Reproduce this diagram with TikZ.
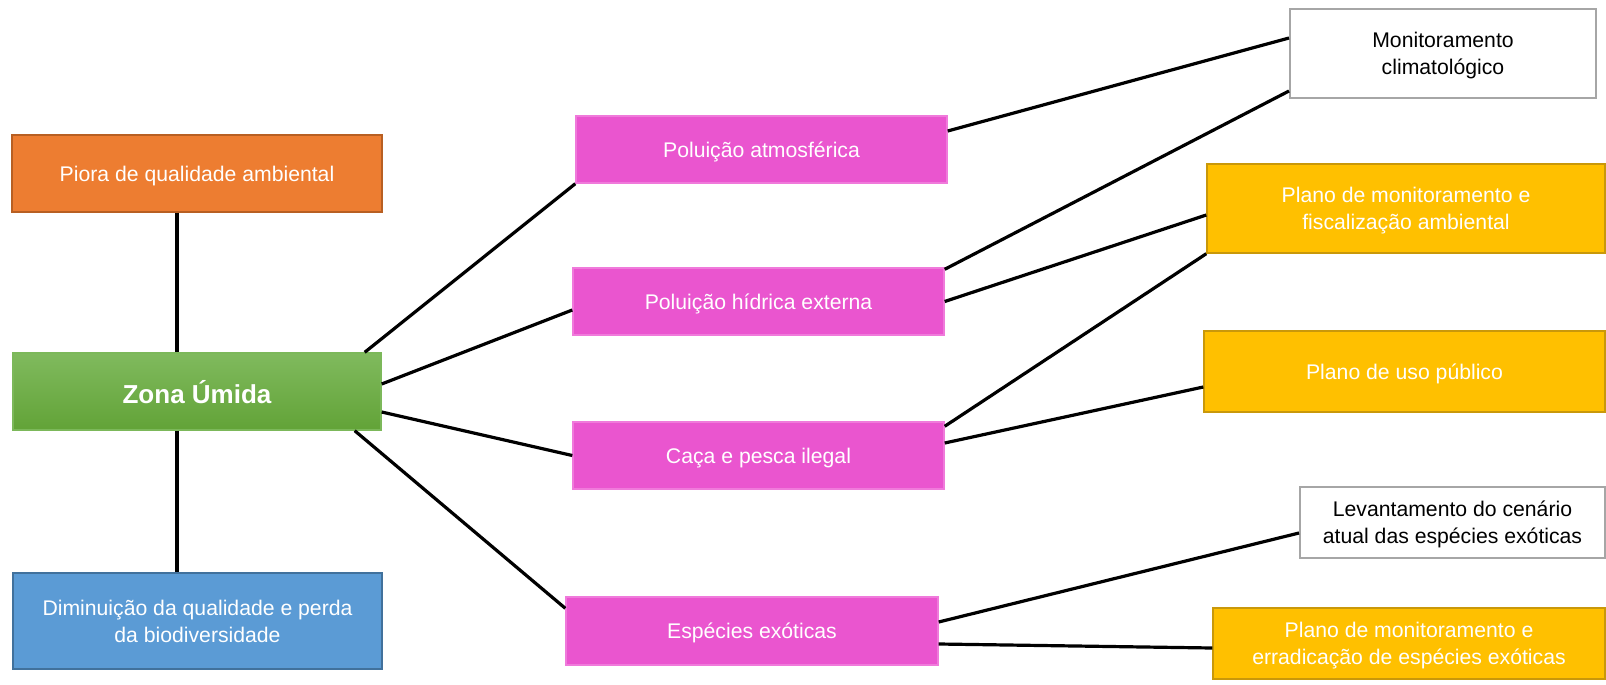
\documentclass[tikz,border=0pt]{standalone}
\usepackage{fontspec}
\setmainfont{Liberation Sans}
\usetikzlibrary{calc}
\definecolor{orangeF}{HTML}{ED7D31}
\definecolor{orangeD}{HTML}{B85F22}
\definecolor{greenT}{HTML}{80BA5E}
\definecolor{greenB}{HTML}{62A337}
\definecolor{greenD}{HTML}{7CB85A}
\definecolor{blueF}{HTML}{5B9BD5}
\definecolor{blueD}{HTML}{41719C}
\definecolor{pinkF}{HTML}{EA55CF}
\definecolor{pinkD}{HTML}{F07ADB}
\definecolor{yellF}{HTML}{FFC000}
\definecolor{yellD}{HTML}{C9980A}
\definecolor{grayD}{HTML}{A6A6A6}
\tikzset{
  box/.style={rectangle, inner sep=0pt, align=center, text depth=0pt, font=\fontsize{10.6}{13.4}\selectfont, line width=0.7pt},
  orangebox/.style={box, fill=orangeF, draw=orangeD, text=white},
  greenbox/.style={box, top color=greenT, bottom color=greenB, draw=greenD, text=white, font=\fontsize{13}{15}\selectfont\bfseries},
  bluebox/.style={box, fill=blueF, draw=blueD, text=white},
  pinkbox/.style={box, fill=pinkF, draw=pinkD, text=white},
  yellbox/.style={box, fill=yellF, draw=yellD, text=white},
  whitebox/.style={box, fill=white, draw=grayD, line width=1pt, text=black},
  link/.style={line width=1.6pt, black}
}
\begin{document}
\begin{tikzpicture}[x=0.5pt, y=-0.5pt]
\useasboundingbox (0,0) rectangle (1606,685);
% left column
\node[orangebox, minimum width=185pt, minimum height=38.5pt] (o) at (197,173.5) {Piora de qualidade ambiental};
\node[greenbox, minimum width=184pt, minimum height=38.5pt] (g) at (197,391.5) {Zona Úmida};
\node[bluebox, minimum width=184.5pt, minimum height=48pt] (b) at (197.5,621) {Diminuição da qualidade e perda\\da biodiversidade};
% middle column
\node[pinkbox, minimum width=185.5pt, minimum height=33.5pt] (pa) at (761.5,149.5) {Poluição atmosférica};
\node[pinkbox, minimum width=185.5pt, minimum height=33.5pt] (h) at (758.5,301.5) {Poluição hídrica externa};
\node[pinkbox, minimum width=185.5pt, minimum height=33.5pt] (c) at (758.5,455.5) {Caça e pesca ilegal};
\node[pinkbox, minimum width=186pt, minimum height=34pt] (e) at (752,631) {Espécies exóticas};
% right column
\node[whitebox, minimum width=153pt, minimum height=44.5pt] (mc) at (1443,53.5) {Monitoramento\\climatológico};
\node[yellbox, minimum width=199pt, minimum height=44.5pt] (pf) at (1406,208.5) {Plano de monitoramento e\\fiscalização ambiental};
\node[yellbox, minimum width=200.5pt, minimum height=40.5pt] (pu) at (1404.5,371.5) {Plano de uso público};
\node[whitebox, minimum width=152.5pt, minimum height=35.5pt] (lev) at (1452.5,522.5) {Levantamento do cenário\\atual das espécies exóticas};
\node[yellbox, minimum width=196pt, minimum height=35.5pt] (pe) at (1409,643.5) {Plano de monitoramento e\\erradicação de espécies exóticas};
% connectors
\draw[link] ($(o.south)+(-20,0)$) -- ($(g.north)+(-20,0)$);
\draw[link] ($(g.south)+(-20,0)$) -- ($(b.north)+(-20.5,0)$);
\draw[link] ($(g.north east)+(-17,0)$) -- (pa.south west);
\draw[link] ($(g.east)+(0,-7.5)$) -- ($(h.west)+(0,8.5)$);
\draw[link] ($(g.east)+(0,20.5)$) -- (c.west);
\draw[link] ($(g.south east)+(-27,0)$) -- ($(e.north west)+(0,12)$);
\draw[link] ($(pa.east)+(0,-18.5)$) -- ($(mc.west)+(0,-15.5)$);
\draw[link] ($(h.north east)+(0,2)$) -- ($(mc.south west)+(0,-8)$);
\draw[link] (h.east) -- ($(pf.west)+(0,6.5)$);
\draw[link] ($(c.north east)+(0,5)$) -- (pf.south west);
\draw[link] ($(c.east)+(0,-12.5)$) -- ($(pu.west)+(0,15.5)$);
\draw[link] ($(e.east)+(0,-9)$) -- ($(lev.west)+(0,10.5)$);
\draw[link] ($(e.east)+(0,13)$) -- ($(pe.west)+(0,4.5)$);
\end{tikzpicture}
\end{document}
